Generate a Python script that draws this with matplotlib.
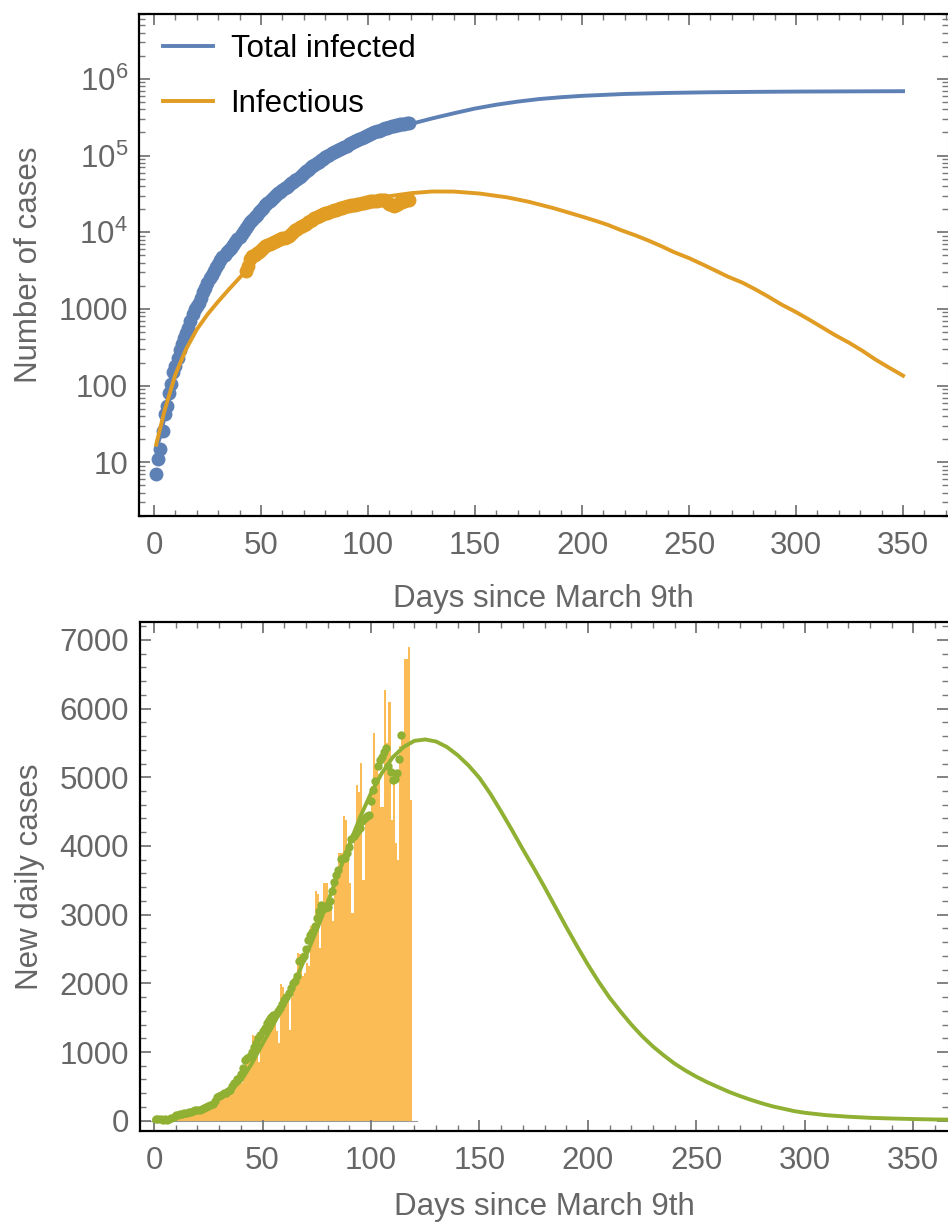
import numpy as np
import matplotlib.pyplot as plt
from matplotlib.ticker import MultipleLocator, FixedLocator, FixedFormatter, LogLocator, NullFormatter

plt.rcParams['font.family'] = ['Liberation Sans', 'DejaVu Sans']
plt.rcParams['mathtext.default'] = 'regular'

# ---- top panel: cumulative and active cases (log scale) ----
data_days_total = list(range(1, 120))
total_infected = [
    7, 11, 15, 26, 43, 55, 80, 105, 150, 180,
    230, 290, 350, 420, 480, 570, 700, 850, 1000, 1100,
    1200, 1400, 1650, 1900, 2200, 2500, 2800, 3100, 3500, 3900,
    4300, 4700, 5100, 5500, 5900, 6300, 6800, 7400, 8100, 8800,
    9600, 10500, 11500, 12500, 13500, 14600, 15800, 17000, 18300, 19600,
    21000, 22500, 24000, 25500, 27000, 28600, 30300, 32000, 33800, 35600,
    37500, 39400, 41400, 43400, 45500, 47700, 50000, 53000, 56000, 59000,
    62000, 65500, 69000, 72500, 76000, 79500, 83000, 87000, 91000, 95000,
    99000, 103000, 107000, 111000, 115000, 119000, 123000, 127000, 131000, 135000,
    140000, 145000, 150000, 155000, 160000, 165000, 170000, 175000, 181000, 186000,
    191000, 196000, 201000, 206000, 211000, 216000, 221000, 226000, 231000, 236000,
    241000, 245000, 249000, 252000, 255000, 258000, 261000, 264000, 267000]

data_days_infectious = list(range(43, 120))
infectious = [
    3100, 3600, 4500, 4900, 5100, 5300, 5600, 5900, 6200, 6600,
    6900, 7000, 7200, 7500, 7700, 7900, 8200, 8400, 8500, 8700,
    9000, 9600, 10200, 10600, 11000, 11600, 12000, 12500, 13000, 13500,
    14000, 14600, 15200, 15600, 16200, 16800, 17200, 17600, 18000, 18500,
    19000, 19300, 19600, 20000, 20400, 20800, 21200, 21700, 22200, 22500,
    22800, 23000, 23300, 23600, 24000, 24400, 24800, 25000, 25300, 25500,
    25700, 25900, 26100, 26300, 26500, 26000, 25000, 23500, 22500, 21700,
    22500, 23500, 24500, 24800, 25500, 26000, 26500]

fit_days_total = [1, 3, 5, 8, 10, 13, 15, 18, 20, 25, 30, 35, 40, 45, 50, 55, 60,
                  70, 80, 90, 100, 110, 120, 130, 140, 150, 160, 170, 180, 190,
                  200, 220, 240, 260, 280, 300, 325, 350]
total_fit = [15, 22, 40, 85, 140, 260, 380, 650, 900, 1700, 3000, 5000, 8000,
             12500, 18500, 26000, 35000, 58000, 90000, 128000, 170000, 213000,
             258000, 305000, 355000, 410000, 460000, 505000, 545000, 575000,
             600000, 635000, 655000, 668000, 676000, 682000, 686000, 690000]

fit_days_infectious = [1, 5, 10, 15, 20, 25, 30, 35, 40, 43, 45, 50, 60, 70, 80,
                       90, 100, 110, 120, 130, 140, 152, 165, 175, 187, 200, 206,
                       212, 218, 225, 231, 237, 243, 250, 256, 262, 268, 275, 281,
                       287, 293, 300, 306, 312, 318, 325, 331, 337, 343, 350]
infectious_fit = [17, 48, 140, 300, 540, 850, 1250, 1800, 2550, 3150, 4200, 5800,
                  8800, 12800, 17200, 21600, 25800, 29500, 32300, 34000, 33900,
                  32000, 28500, 25000, 20500, 16000, 14200, 12500, 10700, 9100,
                  7800, 6600, 5500, 4600, 3850, 3200, 2650, 2200, 1800, 1450,
                  1150, 910, 730, 580, 460, 360, 285, 220, 175, 135]

log_ticks = [10, 100, 1000, 1e4, 1e5, 1e6]
log_tick_labels = ['10', '100', '1000', r'$10^4$', r'$10^5$', r'$10^6$']

# ---- bottom panel: new daily cases ----
bar_days = list(range(0, 119))
new_cases = [
    0, 5, 5, 10, 15, 10, 25, 20, 30, 40,
    30, 50, 60, 45, 70, 80, 60, 90, 110, 100,
    120, 130, 150, 170, 200, 240, 260, 300, 330, 310,
    350, 380, 400, 370, 410, 450, 470, 520, 560, 600,
    550, 620, 900, 950, 980, 1250, 1230, 1085, 860, 1200,
    1225, 1280, 1520, 1500, 1420, 1450, 1300, 1130, 1990, 1950,
    1760, 1780, 1320, 1800, 2050, 2100, 2440, 2430, 2100, 2150,
    2290, 2250, 2830, 2800, 3340, 3300, 2510, 3000, 3460, 3460,
    3170, 3170, 2900, 3500, 3500, 3900, 3900, 4440, 4380, 4000,
    3460, 3030, 4190, 4880, 4780, 5210, 3500, 4380, 4480, 4480,
    4870, 5640, 5160, 5040, 4570, 4570, 6270, 5500, 6090, 4380,
    4960, 4040, 3800, 5450, 5600, 6720, 6720, 6900, 4670]

smooth_days = list(range(1, 115))
smoothed_cases = [
    20, 25, 20, 15, 20, 15, 20, 40, 60, 80,
    90, 100, 100, 105, 110, 120, 130, 140, 155, 160,
    160, 165, 180, 200, 215, 230, 250, 290, 340, 360,
    380, 400, 410, 430, 450, 500, 550, 600, 620, 680,
    760, 890, 910, 940, 1000, 1080, 1130, 1200, 1250, 1300,
    1350, 1420, 1470, 1510, 1540, 1560, 1600, 1640, 1700, 1760,
    1800, 1860, 1930, 2000, 2030, 2100, 2320, 2350, 2400, 2500,
    2630, 2700, 2750, 2830, 2950, 3050, 3140, 3120, 3100, 3110,
    3200, 3340, 3480, 3580, 3650, 3810, 3820, 3830, 3900, 3990,
    4100, 4140, 4190, 4230, 4260, 4360, 4400, 4430, 4450, 4650,
    4820, 4950, 5170, 5250, 5290, 5370, 5420, 5160, 5080, 4960,
    4980, 5060, 5270, 5620]

fit_days_daily = [0, 5, 10, 15, 20, 25, 30, 35, 40, 45, 50, 55, 60, 65, 70, 75,
                  80, 85, 90, 95, 100, 105, 110, 115, 120, 125, 130, 135, 140,
                  145, 150, 155, 160, 165, 170, 175, 180, 185, 190, 195, 200,
                  205, 210, 215, 220, 225, 230, 235, 240, 245, 250, 255, 260,
                  265, 270, 275, 280, 285, 290, 295, 300, 310, 320, 330, 340,
                  350, 360, 370]
daily_fit = [5, 15, 40, 80, 140, 220, 320, 440, 580, 830, 1120, 1400, 1700,
             2030, 2400, 2780, 3180, 3600, 4020, 4420, 4770, 5060, 5290, 5440,
             5530, 5550, 5520, 5440, 5320, 5170, 4990, 4760, 4500, 4230, 3950,
             3680, 3400, 3110, 2820, 2540, 2270, 2020, 1790, 1590, 1400, 1230,
             1080, 950, 830, 730, 640, 560, 490, 420, 360, 305, 255, 210, 175,
             140, 115, 80, 58, 42, 32, 24, 18, 14]

blue = '#5e81b5'
orange = '#e19c24'
green = '#8fb032'
bar_color = '#fbbc55'
label_gray = '#666666'
tick_gray = '#777777'
fs = 22.5

fig = plt.figure(figsize=(9.48, 12.26), dpi=100)
ax1 = fig.add_axes([139 / 948, 1 - 516 / 1226, 809 / 948, 502 / 1226])
ax2 = fig.add_axes([140 / 948, 1 - 1131 / 1226, 808 / 948, 509 / 1226])


def style_axes(ax, xpad):
    for side in ['left', 'bottom', 'top']:
        ax.spines[side].set_linewidth(1.6)
        ax.spines[side].set_color('black')
    ax.spines['right'].set_color('#bbbbbb')
    ax.spines['right'].set_linewidth(0.8)
    ax.tick_params(which='both', direction='in', top=True, right=True,
                   color=tick_gray, labelcolor=label_gray, labelsize=fs)
    ax.tick_params(which='major', length=8, width=1.3)
    ax.tick_params(which='minor', length=4.5, width=1.0)
    ax.tick_params(axis='x', pad=11)
    ax.tick_params(axis='y', pad=8)
    ax.xaxis.set_major_locator(MultipleLocator(50))
    ax.xaxis.set_minor_locator(MultipleLocator(10))
    ax.set_xlabel('Days since March 9th', fontsize=fs, color=label_gray, labelpad=xpad)


# top panel
ax1.set_yscale('log')
line_total, = ax1.plot(fit_days_total, total_fit, color=blue, lw=2.8, zorder=2,
                       label='Total infected')
ax1.plot(data_days_total, total_infected, 'o', color=blue, ms=9, zorder=3)
line_inf, = ax1.plot(fit_days_infectious, infectious_fit, color=orange, lw=2.8,
                     zorder=4, label='Infectious')
ax1.plot(data_days_infectious, infectious, 'o', color=orange, ms=9, zorder=4)
ax1.set_xlim(-7, 371)
ax1.set_ylim(2, 7e6)
style_axes(ax1, 16)
ax1.yaxis.set_major_locator(FixedLocator(log_ticks))
ax1.yaxis.set_major_formatter(FixedFormatter(log_tick_labels))
ax1.yaxis.set_minor_locator(LogLocator(base=10, subs=np.arange(2, 10)))
ax1.yaxis.set_minor_formatter(NullFormatter())
ax1.set_ylabel('Number of cases', fontsize=fs, color=label_gray, labelpad=10)
leg = ax1.legend(handles=[line_total, line_inf], loc='upper left',
                 bbox_to_anchor=(0.005, 1.0), frameon=False, fontsize=fs,
                 handlelength=1.6, handletextpad=0.55, labelspacing=0.8,
                 borderpad=0.15)

# bottom panel
ax2.bar(bar_days, new_cases, width=1.0, align='edge', color=bar_color,
        linewidth=0, zorder=1)
ax2.plot([ax2.get_xlim()[0] - 10, bar_days[-1] + 3], [0, 0], color='#999999',
         lw=0.8, zorder=1.5)
ax2.plot(fit_days_daily, daily_fit, color=green, lw=2.8, zorder=3)
ax2.plot(smooth_days, smoothed_cases, 'o', color=green, ms=5, zorder=3)
ax2.set_xlim(-6.5, 366)
ax2.set_ylim(-150, 7260)
style_axes(ax2, 11)
ax2.yaxis.set_major_locator(MultipleLocator(1000))
ax2.yaxis.set_minor_locator(MultipleLocator(200))
ax2.set_ylabel('New daily cases', fontsize=fs, color=label_gray, labelpad=10)

fig.savefig('out.png', dpi=100)
